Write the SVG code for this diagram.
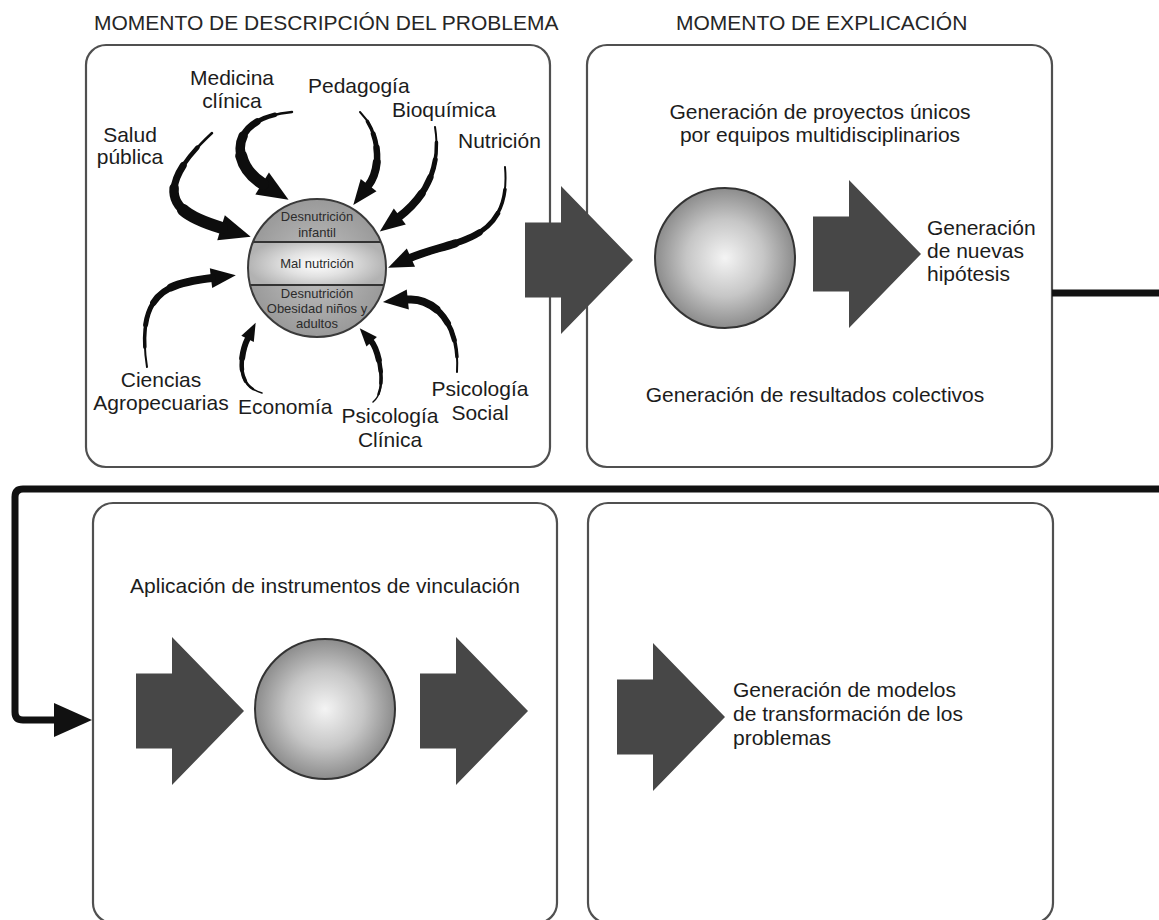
<svg xmlns="http://www.w3.org/2000/svg" width="1159" height="920" viewBox="0 0 1159 920">
  <style>
    text { font-family: "Liberation Sans", Arial, Helvetica, sans-serif; fill: #1c1c1c; }
    .title { font-size: 21px; fill: #262626; }
    .lbl { font-size: 21px; }
    .mid { text-anchor: middle; }
    .tiny { font-size: 13px; fill: #2b2b2b; text-anchor: middle; }
    .box { fill: #ffffff; stroke: #505050; stroke-width: 2.2; }
    .blk { fill: #474747; }
    .ball { fill: url(#gBall); stroke: #333333; stroke-width: 2; }
    .loop { fill: none; stroke: #111111; stroke-width: 7; stroke-linejoin: round; }
    /* tapered curved arrows: the same path drawn in layers of growing width */
    .cv { fill: none; stroke: #0d0d0d; stroke-linecap: round; }
    .s2 { stroke-dasharray: 100 100; stroke-dashoffset: -15; }
    .s3 { stroke-dasharray: 100 100; stroke-dashoffset: -32; }
    .s4 { stroke-dasharray: 100 100; stroke-dashoffset: -50; }
    .s5 { stroke-dasharray: 100 100; stroke-dashoffset: -68; }
    .B.s1 { stroke-width: 2.5; } .B.s2 { stroke-width: 4.5; } .B.s3 { stroke-width: 7; } .B.s4 { stroke-width: 9.5; } .B.s5 { stroke-width: 12; }
    .M.s1 { stroke-width: 2; } .M.s2 { stroke-width: 3.5; } .M.s3 { stroke-width: 5; } .M.s4 { stroke-width: 6.5; } .M.s5 { stroke-width: 8; }
    .S.s1 { stroke-width: 1.5; } .S.s2 { stroke-width: 2.5; } .S.s3 { stroke-width: 3.5; } .S.s4 { stroke-width: 4.5; } .S.s5 { stroke-width: 6; }
  </style>
  <defs>
    <radialGradient id="gBall" cx="50%" cy="50%" r="50%">
      <stop offset="0" stop-color="#f4f4f4"/>
      <stop offset="0.55" stop-color="#c6c6c6"/>
      <stop offset="1" stop-color="#8c8c8c"/>
    </radialGradient>
    <radialGradient id="gBand" gradientUnits="userSpaceOnUse" cx="317" cy="268" r="70">
      <stop offset="0" stop-color="#c2c2c2"/>
      <stop offset="1" stop-color="#999999"/>
    </radialGradient>
    <radialGradient id="gMid" gradientUnits="userSpaceOnUse" cx="317" cy="264" r="70" gradientTransform="translate(317 264) scale(1 0.4) translate(-317 -264)">
      <stop offset="0" stop-color="#ffffff"/>
      <stop offset="0.45" stop-color="#e2e2e2"/>
      <stop offset="1" stop-color="#b2b2b2"/>
    </radialGradient>
    <clipPath id="sphClip"><circle cx="317" cy="268" r="69"/></clipPath>

    <!-- block arrow, tip at origin -->
    <path id="blkArrow" d="M-108,-37.5 H-72 V-74 L0,0 L-72,74 V37.5 H-108 Z"/>

    <marker id="hB" markerUnits="userSpaceOnUse" markerWidth="32" markerHeight="26" refX="1" refY="13" orient="auto" overflow="visible">
      <path d="M0,0 L31,13 L0,26 Z" fill="#0d0d0d"/>
    </marker>
    <marker id="hM" markerUnits="userSpaceOnUse" markerWidth="26" markerHeight="20" refX="1" refY="10" orient="auto" overflow="visible">
      <path d="M0,0 L25,10 L0,20 Z" fill="#0d0d0d"/>
    </marker>
    <marker id="hS" markerUnits="userSpaceOnUse" markerWidth="19" markerHeight="14" refX="1" refY="7" orient="auto" overflow="visible">
      <path d="M0,0 L18,7 L0,14 Z" fill="#0d0d0d"/>
    </marker>

    <!-- curved arrow paths -->
    <path id="cSalud" pathLength="100" d="M212,133 C140,200 186,217 222,228"/>
    <path id="cMedicina" pathLength="100" d="M292,112 C225,118 232,165 263,184"/>
    <path id="cPedagogia" pathLength="100" d="M360,112 C378,130 383.5,166 368,186"/>
    <path id="cBioquimica" pathLength="100" d="M435,127 C442,170 423,199 399,217"/>
    <path id="cNutricion" pathLength="100" d="M505,167 C512,245 450,240 410,258"/>
    <path id="cCiencias" pathLength="100" d="M147,367 C135,290 170,283 212,278"/>
    <path id="cEconomia" pathLength="100" d="M262,393 C232,385 242.6,348.7 248,338"/>
    <path id="cPsiClinica" pathLength="100" d="M373,402 C388,390 379,350 371,341"/>
    <path id="cPsiSocial" pathLength="100" d="M457,372 C460,320 431.6,297 406.8,299.6"/>
  </defs>

  <rect width="1159" height="920" fill="#ffffff"/>

  <!-- section headings -->
  <g id="titles">
    <text class="title" x="94" y="30">MOMENTO DE DESCRIPCIÓN DEL PROBLEMA</text>
    <text class="title" x="676" y="30">MOMENTO DE EXPLICACIÓN</text>
  </g>

  <!-- problem description -->
  <g id="box-descripcion">
    <rect class="box" x="86" y="45" width="464" height="422" rx="20"/>
    <g id="esfera-problema">
      <g clip-path="url(#sphClip)">
        <rect x="247" y="198" width="140" height="44" fill="url(#gBand)"/>
        <rect x="247" y="242" width="140" height="43" fill="url(#gMid)"/>
        <rect x="247" y="285" width="140" height="54" fill="url(#gBand)"/>
        <line x1="247" y1="242" x2="387" y2="242" stroke="#333" stroke-width="2"/>
        <line x1="247" y1="285" x2="387" y2="285" stroke="#333" stroke-width="2"/>
      </g>
      <circle cx="317" cy="268" r="69" fill="none" stroke="#3a3a3a" stroke-width="2"/>
      <text class="tiny" x="317" y="221">Desnutrición</text>
      <text class="tiny" x="317" y="237">infantil</text>
      <text class="tiny" x="317" y="268">Mal nutrición</text>
      <text class="tiny" x="317" y="298">Desnutrición</text>
      <text class="tiny" x="317" y="313">Obesidad niños y</text>
      <text class="tiny" x="317" y="328">adultos</text>
    </g>
    <text class="lbl mid" x="232" y="85">Medicina</text>
    <text class="lbl mid" x="232" y="108">clínica</text>
    <text class="lbl" x="308" y="93">Pedagogía</text>
    <text class="lbl" x="392" y="117">Bioquímica</text>
    <text class="lbl mid" x="130" y="142">Salud</text>
    <text class="lbl mid" x="130" y="164">pública</text>
    <text class="lbl" x="458" y="148">Nutrición</text>
    <text class="lbl mid" x="161" y="387">Ciencias</text>
    <text class="lbl mid" x="161" y="410">Agropecuarias</text>
    <text class="lbl" x="238" y="414">Economía</text>
    <text class="lbl mid" x="390" y="423">Psicología</text>
    <text class="lbl mid" x="390" y="447">Clínica</text>
    <text class="lbl mid" x="480" y="396">Psicología</text>
    <text class="lbl mid" x="480" y="420">Social</text>
  </g>

  <!-- explanation -->
  <g id="box-explicacion">
    <rect class="box" x="587" y="45" width="465" height="422" rx="20"/>
    <text class="lbl mid" x="820" y="119">Generación de proyectos únicos</text>
    <text class="lbl mid" x="820" y="142">por equipos multidisciplinarios</text>
    <circle class="ball" cx="725" cy="258" r="70"/>
    <use href="#blkArrow" class="blk" transform="translate(921 254)"/>
    <text class="lbl" x="927" y="235">Generación</text>
    <text class="lbl" x="927" y="258">de nuevas</text>
    <text class="lbl" x="927" y="281">hipótesis</text>
    <text class="lbl mid" x="815" y="402">Generación de resultados colectivos</text>
  </g>

  <!-- linking instruments -->
  <g id="box-vinculacion">
    <rect class="box" x="93" y="503" width="464" height="420" rx="20"/>
    <text class="lbl mid" x="325" y="593">Aplicación de instrumentos de vinculación</text>
    <use href="#blkArrow" class="blk" transform="translate(244 711)"/>
    <circle class="ball" cx="325" cy="709" r="70"/>
    <use href="#blkArrow" class="blk" transform="translate(528 711)"/>
  </g>

  <!-- transformation models -->
  <g id="box-transformacion">
    <rect class="box" x="588" y="503" width="465" height="420" rx="20"/>
    <use href="#blkArrow" class="blk" transform="translate(725 717)"/>
    <text class="lbl" x="733" y="697">Generación de modelos</text>
    <text class="lbl" x="733" y="721">de transformación de los</text>
    <text class="lbl" x="733" y="745">problemas</text>
  </g>

  <g id="connectors">
    <!-- description to explanation -->
    <use href="#blkArrow" class="blk" transform="translate(633 260)"/>

    <!-- feedback loop from explanation down to linking -->
    <path class="loop" d="M1052,293 H1170"/>
    <path class="loop" d="M1170,489 H23 Q15,489 15,497 V712 Q15,720 23,720 H58"/>
    <polygon points="54,703 92,720 54,737" fill="#111111"/>

    <!-- disciplines feeding the problem -->
    <g id="arrow-salud">
      <use href="#cSalud" class="cv B s1" marker-end="url(#hB)"/>
      <use href="#cSalud" class="cv B s2"/>
      <use href="#cSalud" class="cv B s3"/>
      <use href="#cSalud" class="cv B s4"/>
      <use href="#cSalud" class="cv B s5"/>
    </g>
    <g id="arrow-medicina">
      <use href="#cMedicina" class="cv B s1" marker-end="url(#hB)"/>
      <use href="#cMedicina" class="cv B s2"/>
      <use href="#cMedicina" class="cv B s3"/>
      <use href="#cMedicina" class="cv B s4"/>
      <use href="#cMedicina" class="cv B s5"/>
    </g>
    <g id="arrow-pedagogia">
      <use href="#cPedagogia" class="cv M s1" marker-end="url(#hM)"/>
      <use href="#cPedagogia" class="cv M s2"/>
      <use href="#cPedagogia" class="cv M s3"/>
      <use href="#cPedagogia" class="cv M s4"/>
      <use href="#cPedagogia" class="cv M s5"/>
    </g>
    <g id="arrow-bioquimica">
      <use href="#cBioquimica" class="cv M s1" marker-end="url(#hM)"/>
      <use href="#cBioquimica" class="cv M s2"/>
      <use href="#cBioquimica" class="cv M s3"/>
      <use href="#cBioquimica" class="cv M s4"/>
      <use href="#cBioquimica" class="cv M s5"/>
    </g>
    <g id="arrow-nutricion">
      <use href="#cNutricion" class="cv M s1" marker-end="url(#hM)"/>
      <use href="#cNutricion" class="cv M s2"/>
      <use href="#cNutricion" class="cv M s3"/>
      <use href="#cNutricion" class="cv M s4"/>
      <use href="#cNutricion" class="cv M s5"/>
    </g>
    <g id="arrow-ciencias">
      <use href="#cCiencias" class="cv M s1" marker-end="url(#hM)"/>
      <use href="#cCiencias" class="cv M s2"/>
      <use href="#cCiencias" class="cv M s3"/>
      <use href="#cCiencias" class="cv M s4"/>
      <use href="#cCiencias" class="cv M s5"/>
    </g>
    <g id="arrow-economia">
      <use href="#cEconomia" class="cv S s1" marker-end="url(#hS)"/>
      <use href="#cEconomia" class="cv S s2"/>
      <use href="#cEconomia" class="cv S s3"/>
      <use href="#cEconomia" class="cv S s4"/>
      <use href="#cEconomia" class="cv S s5"/>
    </g>
    <g id="arrow-psi-clinica">
      <use href="#cPsiClinica" class="cv S s1" marker-end="url(#hS)"/>
      <use href="#cPsiClinica" class="cv S s2"/>
      <use href="#cPsiClinica" class="cv S s3"/>
      <use href="#cPsiClinica" class="cv S s4"/>
      <use href="#cPsiClinica" class="cv S s5"/>
    </g>
    <g id="arrow-psi-social">
      <use href="#cPsiSocial" class="cv M s1" marker-end="url(#hM)"/>
      <use href="#cPsiSocial" class="cv M s2"/>
      <use href="#cPsiSocial" class="cv M s3"/>
      <use href="#cPsiSocial" class="cv M s4"/>
      <use href="#cPsiSocial" class="cv M s5"/>
    </g>
  </g>
</svg>
